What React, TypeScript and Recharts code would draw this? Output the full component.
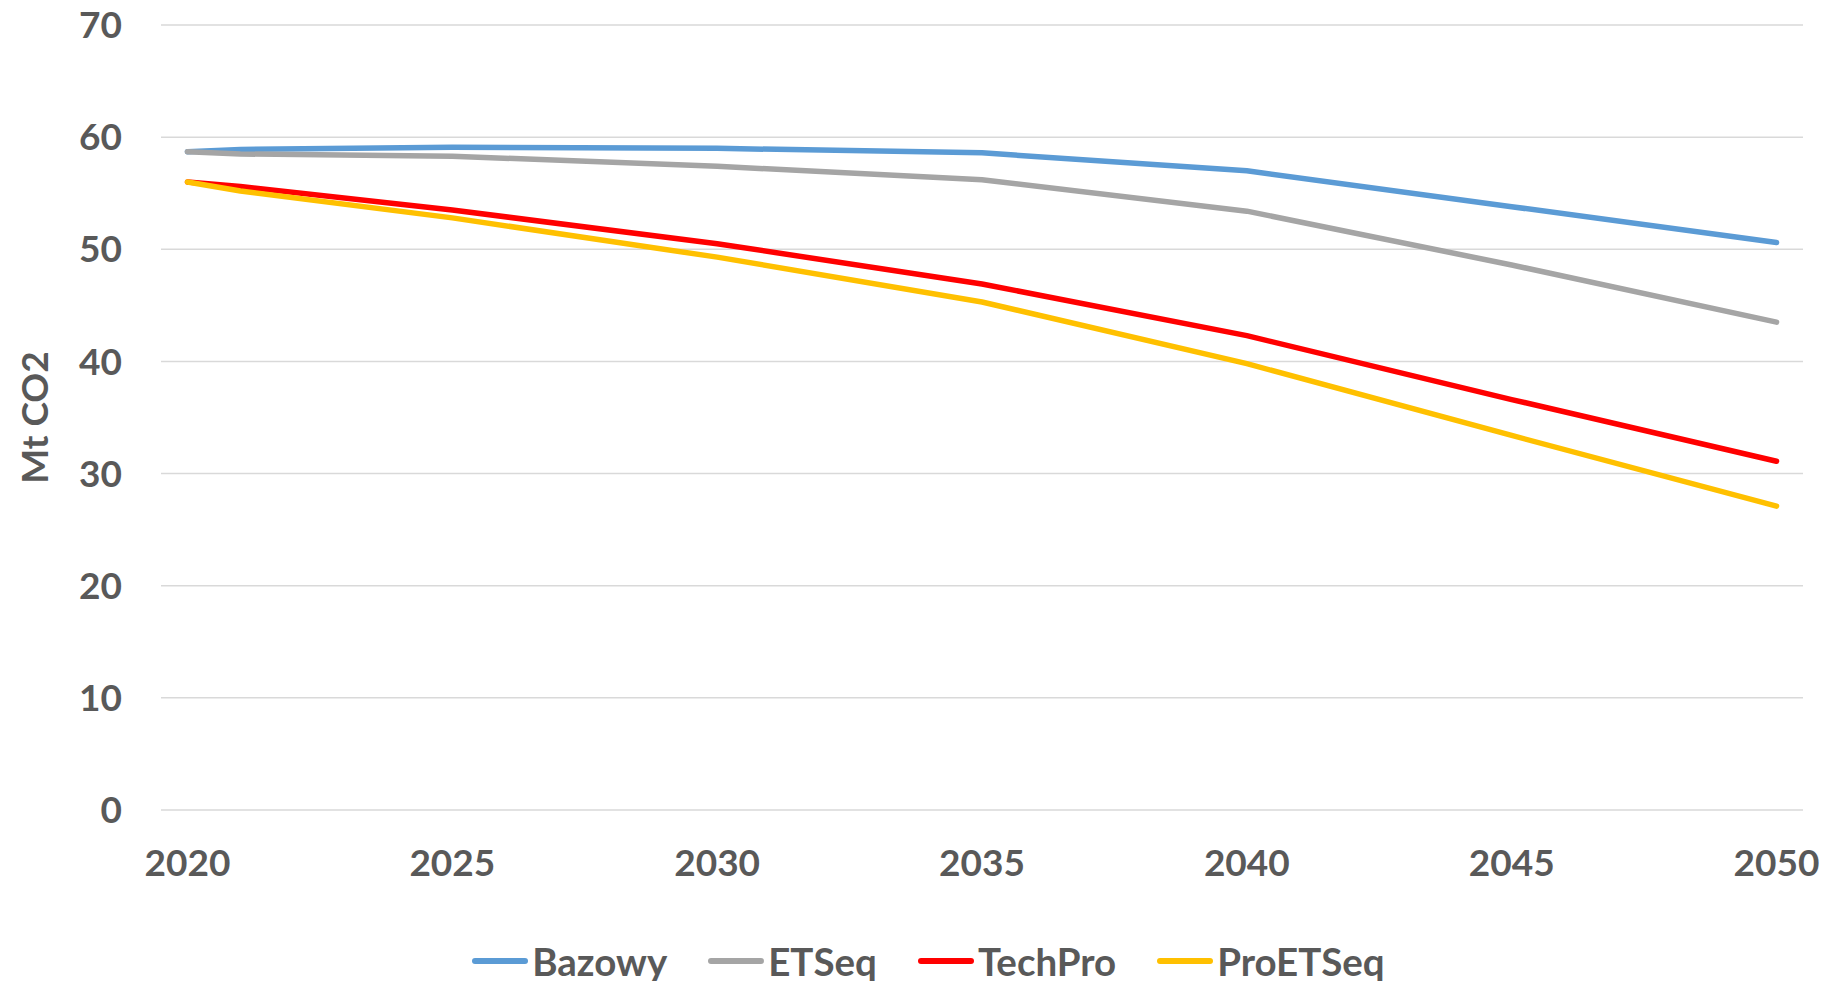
import React from "react";
import {
  LineChart,
  Line,
  XAxis,
  YAxis,
  CartesianGrid,
  Legend,
  Label,
} from "recharts";

// Emissions pathways, Mt CO2 per scenario
const years = [2020, 2021, 2025, 2030, 2035, 2040, 2045, 2050];
const bazowy = [58.7, 58.9, 59.1, 59.0, 58.6, 57.0, 53.8, 50.6];
const etseq = [58.7, 58.5, 58.3, 57.4, 56.2, 53.4, 48.6, 43.5];
const techPro = [56.0, 55.6, 53.5, 50.5, 46.9, 42.3, 36.6, 31.1];
const proEtseq = [56.0, 55.2, 52.8, 49.3, 45.3, 39.8, 33.4, 27.1];

const xTicks = [2020, 2025, 2030, 2035, 2040, 2045, 2050];
const yTicks = [0, 10, 20, 30, 40, 50, 60, 70];

const series = [
  { key: "Bazowy", color: "#5B9BD5" },
  { key: "ETSeq", color: "#A5A5A5" },
  { key: "TechPro", color: "#FF0000" },
  { key: "ProETSeq", color: "#FFC000" },
];

const data = years.map((year, i) => ({
  year,
  Bazowy: bazowy[i],
  ETSeq: etseq[i],
  TechPro: techPro[i],
  ProETSeq: proEtseq[i],
}));

const FONT = "Lato, 'Open Sans', sans-serif";
const TEXT = "#595959";

const tickStyle = { fontFamily: FONT, fontSize: 37, fontWeight: 700, fill: TEXT };

const renderLegend = () => (
  <div
    style={{
      display: "flex",
      justifyContent: "center",
      alignItems: "center",
      height: 60,
      paddingTop: 20,
      paddingLeft: 20,
      boxSizing: "border-box",
      fontFamily: FONT,
      fontSize: 38.5,
      fontWeight: 700,
      color: TEXT,
    }}
  >
    {series.map((s, i) => (
      <div
        key={s.key}
        style={{ display: "flex", alignItems: "center", marginLeft: i === 0 ? 0 : 41 }}
      >
        <svg width={56} height={10} style={{ marginRight: 4 }}>
          <line x1={3} y1={5} x2={53} y2={5} stroke={s.color} strokeWidth={6} strokeLinecap="round" />
        </svg>
        <span style={{ lineHeight: "40px" }}>{s.key}</span>
      </div>
    ))}
  </div>
);

const YTitle = (props: any) => {
  const { viewBox } = props;
  const cy = viewBox.y + viewBox.height / 2;
  return (
    <text
      x={33}
      y={cy}
      transform={`rotate(-90, 33, ${cy})`}
      textAnchor="middle"
      dominantBaseline="central"
      style={tickStyle}
    >
      Mt CO2
    </text>
  );
};

export default function App() {
  return (
    <div style={{ position: "absolute", left: 0, top: 0, background: "#fff" }}>
      <LineChart
        width={1837}
        height={981}
        data={data}
        margin={{ top: 25, right: 34, left: 0, bottom: 0 }}
      >
        <CartesianGrid vertical={false} stroke="#D9D9D9" strokeWidth={1.5} />
        <XAxis
          dataKey="year"
          type="number"
          domain={[2019.5, 2050.5]}
          ticks={xTicks}
          axisLine={false}
          tickLine={false}
          tickSize={6}
          tickMargin={34}
          height={111}
          tick={tickStyle}
          interval={0}
        />
        <YAxis
          domain={[0, 70]}
          ticks={yTicks}
          axisLine={false}
          tickLine={false}
          tickSize={6}
          tickMargin={33}
          width={161}
          tick={tickStyle}
          interval={0}
        >
          <Label content={<YTitle />} />
        </YAxis>
        <Legend verticalAlign="bottom" height={60} wrapperStyle={{ left: 0, width: 1837 }} content={renderLegend} />
        {series.map((s) => (
          <Line
            key={s.key}
            dataKey={s.key}
            type="linear"
            stroke={s.color}
            strokeWidth={5.5}
            strokeLinecap="round"
            strokeLinejoin="round"
            dot={false}
            activeDot={false}
            isAnimationActive={false}
          />
        ))}
      </LineChart>
    </div>
  );
}
